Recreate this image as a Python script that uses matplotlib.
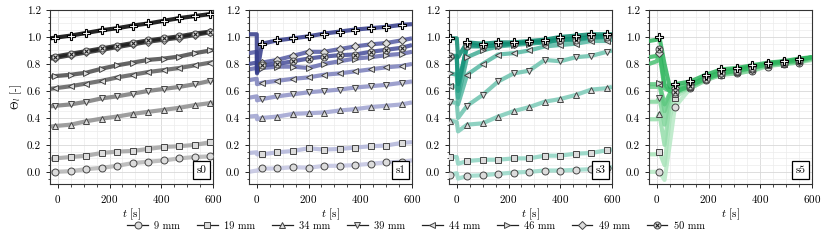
import matplotlib
matplotlib.use("Agg")
import matplotlib.pyplot as plt
from matplotlib.lines import Line2D
from matplotlib.legend_handler import HandlerTuple
from matplotlib.ticker import MultipleLocator

plt.rcParams['font.family'] = 'serif'
plt.rcParams['font.serif'] = ['cmr10', 'DejaVu Serif']
plt.rcParams['mathtext.fontset'] = 'cm'
plt.rcParams['axes.formatter.use_mathtext'] = True
plt.rcParams['font.size'] = 8

series_labels = ['9 mm', '19 mm', '34 mm', '39 mm', '44 mm', '46 mm', '49 mm', '50 mm', None]
panel_names = ['s0', 's1', 's3', 's5']

# ---- s0 ----
t_s0 = [-30, -10, 50, 110, 170, 230, 290, 350, 410, 470, 530, 590, 600]
s0_9 = [-0.005, 0.0, 0.005, 0.02, 0.03, 0.045, 0.065, 0.075, 0.085, 0.10, 0.11, 0.115, 0.12]
s0_19 = [0.095, 0.10, 0.11, 0.12, 0.14, 0.15, 0.155, 0.17, 0.185, 0.19, 0.20, 0.22, 0.225]
s0_34 = [0.335, 0.34, 0.35, 0.375, 0.395, 0.41, 0.43, 0.445, 0.46, 0.475, 0.495, 0.51, 0.515]
s0_39 = [0.485, 0.49, 0.50, 0.52, 0.545, 0.56, 0.58, 0.60, 0.615, 0.63, 0.65, 0.675, 0.68]
s0_44 = [0.615, 0.62, 0.635, 0.655, 0.675, 0.70, 0.72, 0.74, 0.755, 0.77, 0.79, 0.81, 0.815]
s0_46 = [0.705, 0.71, 0.72, 0.735, 0.765, 0.79, 0.81, 0.83, 0.84, 0.855, 0.88, 0.90, 0.905]
s0_49 = [0.84, 0.845, 0.865, 0.885, 0.905, 0.925, 0.945, 0.965, 0.98, 0.995, 1.015, 1.035, 1.04]
s0_50 = [0.85, 0.855, 0.875, 0.895, 0.915, 0.935, 0.955, 0.975, 0.99, 1.005, 1.025, 1.04, 1.045]
s0_top = [0.99, 0.995, 1.01, 1.03, 1.05, 1.065, 1.085, 1.10, 1.12, 1.14, 1.155, 1.17, 1.175]
mk_s0 = list(range(1, 12))

# ---- s1 ----
t_s1 = [-30, 0, 1, 20, 80, 140, 200, 260, 320, 380, 440, 500, 560, 600]
s1_9 = [0.0, 0.01, 0.01, 0.025, 0.025, 0.035, 0.03, 0.045, 0.045, 0.05, 0.06, 0.07, 0.075, 0.085]
s1_19 = [0.14, 0.145, 0.13, 0.13, 0.145, 0.155, 0.175, 0.165, 0.17, 0.18, 0.19, 0.195, 0.215, 0.22]
s1_34 = [0.41, 0.415, 0.39, 0.40, 0.41, 0.43, 0.435, 0.44, 0.455, 0.465, 0.48, 0.49, 0.50, 0.515]
s1_39 = [0.55, 0.56, 0.53, 0.54, 0.56, 0.575, 0.59, 0.60, 0.61, 0.625, 0.635, 0.645, 0.66, 0.67]
s1_44 = [0.68, 0.69, 0.65, 0.66, 0.675, 0.69, 0.70, 0.72, 0.73, 0.745, 0.76, 0.775, 0.785, 0.80]
s1_46 = [0.76, 0.77, 0.74, 0.77, 0.78, 0.78, 0.77, 0.80, 0.82, 0.84, 0.85, 0.865, 0.875, 0.89]
s1_49 = [0.88, 0.89, 0.76, 0.81, 0.83, 0.86, 0.89, 0.89, 0.91, 0.93, 0.945, 0.955, 0.975, 0.99]
s1_50 = [0.80, 0.81, 0.75, 0.79, 0.80, 0.82, 0.84, 0.855, 0.865, 0.87, 0.89, 0.905, 0.92, 0.94]
s1_top = [1.02, 1.02, 0.73, 0.95, 0.975, 0.99, 1.005, 1.025, 1.04, 1.055, 1.065, 1.075, 1.09, 1.095]
mk_s1 = list(range(3, 13))

# ---- s3 ----
t_s3 = [-30, -25, 0, 5, 40, 100, 160, 220, 280, 340, 400, 460, 520, 580, 600]
s3_9 = [-0.01, -0.02, -0.01, -0.05, -0.03, -0.025, -0.015, -0.005, 0.0, 0.01, 0.01, 0.015, 0.02, 0.03, 0.035]
s3_19 = [0.11, 0.11, 0.11, 0.06, 0.08, 0.09, 0.09, 0.10, 0.10, 0.12, 0.12, 0.135, 0.14, 0.16, 0.165]
s3_34 = [0.39, 0.38, 0.37, 0.30, 0.35, 0.36, 0.41, 0.45, 0.48, 0.52, 0.54, 0.57, 0.61, 0.62, 0.63]
s3_39 = [0.52, 0.52, 0.51, 0.40, 0.49, 0.57, 0.67, 0.73, 0.75, 0.83, 0.82, 0.85, 0.86, 0.89, 0.90]
s3_44 = [0.64, 0.64, 0.63, 0.50, 0.72, 0.80, 0.87, 0.88, 0.90, 0.93, 0.94, 0.95, 0.97, 0.97, 0.98]
s3_46 = [0.73, 0.73, 0.72, 0.55, 0.85, 0.90, 0.93, 0.94, 0.95, 0.96, 0.97, 0.98, 0.99, 1.0, 1.0]
s3_49 = [0.85, 0.85, 0.85, 0.60, 0.95, 0.93, 0.94, 0.95, 0.96, 0.97, 0.98, 0.99, 1.0, 1.01, 1.01]
s3_50 = [0.86, 0.86, 0.86, 0.65, 0.93, 0.93, 0.94, 0.95, 0.96, 0.96, 0.98, 0.98, 1.0, 1.0, 1.01]
s3_top = [0.99, 0.99, 0.99, 0.85, 0.96, 0.95, 0.96, 0.96, 0.97, 0.98, 1.0, 1.01, 1.02, 1.02, 1.02]
mk_s3 = [1] + list(range(4, 14))

# ---- s5 ----
t_s5 = [-30, 0, 10, 30, 50, 70, 130, 190, 250, 310, 370, 430, 490, 550, 600]
s5_9 = [0.0, 0.0, 0.0, -0.06, 0.2, 0.48, 0.62, 0.68, 0.72, 0.73, 0.75, 0.78, 0.80, 0.81, 0.83]
s5_19 = [0.13, 0.13, 0.15, 0.05, 0.4, 0.55, 0.63, 0.69, 0.72, 0.74, 0.76, 0.79, 0.80, 0.82, 0.83]
s5_34 = [0.39, 0.39, 0.43, 0.20, 0.5, 0.58, 0.63, 0.69, 0.73, 0.74, 0.76, 0.79, 0.80, 0.82, 0.84]
s5_39 = [0.52, 0.52, 0.55, 0.35, 0.55, 0.59, 0.62, 0.68, 0.72, 0.73, 0.75, 0.79, 0.80, 0.81, 0.84]
s5_44 = [0.63, 0.63, 0.65, 0.45, 0.57, 0.60, 0.63, 0.69, 0.73, 0.74, 0.77, 0.79, 0.81, 0.82, 0.84]
s5_46 = [0.65, 0.65, 0.66, 0.50, 0.58, 0.60, 0.64, 0.70, 0.74, 0.75, 0.77, 0.80, 0.81, 0.82, 0.85]
s5_49 = [0.80, 0.82, 0.88, 0.62, 0.60, 0.62, 0.65, 0.70, 0.74, 0.76, 0.78, 0.80, 0.82, 0.83, 0.85]
s5_50 = [0.85, 0.86, 0.91, 0.65, 0.60, 0.59, 0.64, 0.69, 0.73, 0.75, 0.77, 0.80, 0.81, 0.83, 0.85]
s5_top = [0.97, 0.98, 1.0, 0.80, 0.63, 0.65, 0.67, 0.72, 0.76, 0.77, 0.79, 0.81, 0.82, 0.84, 0.85]
mk_s5 = [2] + list(range(5, 14))

panels = [
    (t_s0, [s0_9, s0_19, s0_34, s0_39, s0_44, s0_46, s0_49, s0_50, s0_top], mk_s0,
     ['#b4b4b4', '#a2a2a2', '#8e8e8e', '#7a7a7a', '#5e5e5e', '#4a4a4a', '#2c2c2c', '#1c1c1c', '#000000']),
    (t_s1, [s1_9, s1_19, s1_34, s1_39, s1_44, s1_46, s1_49, s1_50, s1_top], mk_s1,
     ['#c3c5e2', '#b2b5da', '#9fa3d0', '#8d91c6', '#7a7fbb', '#676cb0', '#545aa4', '#454c99', '#323a88']),
    (t_s3, [s3_9, s3_19, s3_34, s3_39, s3_44, s3_46, s3_49, s3_50, s3_top], mk_s3,
     ['#98d9c8', '#8dd3c1', '#7ccbb8', '#6cc3ae', '#55b8a2', '#3fac94', '#279f86', '#16937a', '#0d8a70']),
    (t_s5, [s5_9, s5_19, s5_34, s5_39, s5_44, s5_46, s5_49, s5_50, s5_top], mk_s5,
     ['#b8e9c6', '#a8e3b9', '#95ddab', '#83d69d', '#70cf8e', '#5dc880', '#4ac172', '#3aba66', '#2cb35c']),
]

markers = ['o', 's', '^', 'v', '<', '>', 'D', 'o', 'P']
msizes = [5, 5, 5, 5, 5, 5, 4.5, 5, 6]
face = '#dcdcdc'
edge = '#454545'

fig = plt.figure(figsize=(8.22, 2.40), dpi=100)
lefts = [50, 249, 449, 649]
axes = []
for k, (t, ys, mk, cols) in enumerate(panels):
    ax = fig.add_axes([lefts[k] / 822, 1 - 184 / 240, 163 / 822, 174 / 240])
    axes.append(ax)
    ax.set_axisbelow(True)
    ax.grid(True, which='major', color='#d8d8d8', lw=0.6)
    ax.grid(True, which='minor', color='#ececec', lw=0.5)
    for i, y in enumerate(ys):
        ax.plot(t, y, color=cols[i], lw=3.0, alpha=0.85, solid_capstyle='butt', zorder=2 + i * 0.1)
    for i, y in enumerate(ys):
        tm = [t[j] for j in mk]
        ym = [y[j] for j in mk]
        if i == 8:
            ax.plot(tm, ym, ls='none', marker='P', ms=msizes[i], mfc='white', mec='black', mew=0.8, zorder=4)
        else:
            ax.plot(tm, ym, ls='none', marker=markers[i], ms=msizes[i], mfc=face, mec=edge, mew=0.7, zorder=3 + i * 0.1)
            if i == 7:
                ax.plot(tm, ym, ls='none', marker='x', ms=3, mec='#222222', mew=0.8, zorder=3.8)
    ax.set_xlim(-30, 600)
    ax.set_ylim(-0.09, 1.2)
    ax.xaxis.set_major_locator(MultipleLocator(200))
    ax.xaxis.set_minor_locator(MultipleLocator(50))
    ax.yaxis.set_major_locator(MultipleLocator(0.2))
    ax.yaxis.set_minor_locator(MultipleLocator(0.05))
    ax.yaxis.set_major_formatter(matplotlib.ticker.FormatStrFormatter('%.1f'))
    ax.tick_params(which='major', length=3, width=0.6, labelsize=8)
    ax.tick_params(which='minor', length=1.8, width=0.5)
    for sp in ax.spines.values():
        sp.set_linewidth(0.8)
        sp.set_color('#333333')
    ax.set_xlabel(r'$t$ [s]', fontsize=8, labelpad=1)
    ax.text(0.93, 0.08, panel_names[k], transform=ax.transAxes, ha='center', va='center', fontsize=8,
            bbox=dict(boxstyle='square,pad=0.35', fc='white', ec='black', lw=0.9), zorder=10)
axes[0].set_ylabel(r'$\Theta_l$ [-]', fontsize=8, labelpad=2)

handles = []
for i in range(8):
    h = Line2D([], [], color='#222222', lw=0.9, marker=markers[i], ms=msizes[i], mfc=face, mec=edge, mew=0.7)
    if i == 7:
        hx = Line2D([], [], color='none', lw=0, marker='x', ms=3, mec='#222222', mew=0.8)
        h = (h, hx)
    handles.append(h)
fig.legend(handles, series_labels[:8], loc='center', bbox_to_anchor=(416 / 822, 1 - 226 / 240), ncol=8,
           frameon=False, fontsize=7.5, handlelength=2.0, columnspacing=1.6, handletextpad=0.6,
           handler_map={tuple: HandlerTuple(ndivide=1, pad=0)})

fig.savefig('out.png', dpi=100)
